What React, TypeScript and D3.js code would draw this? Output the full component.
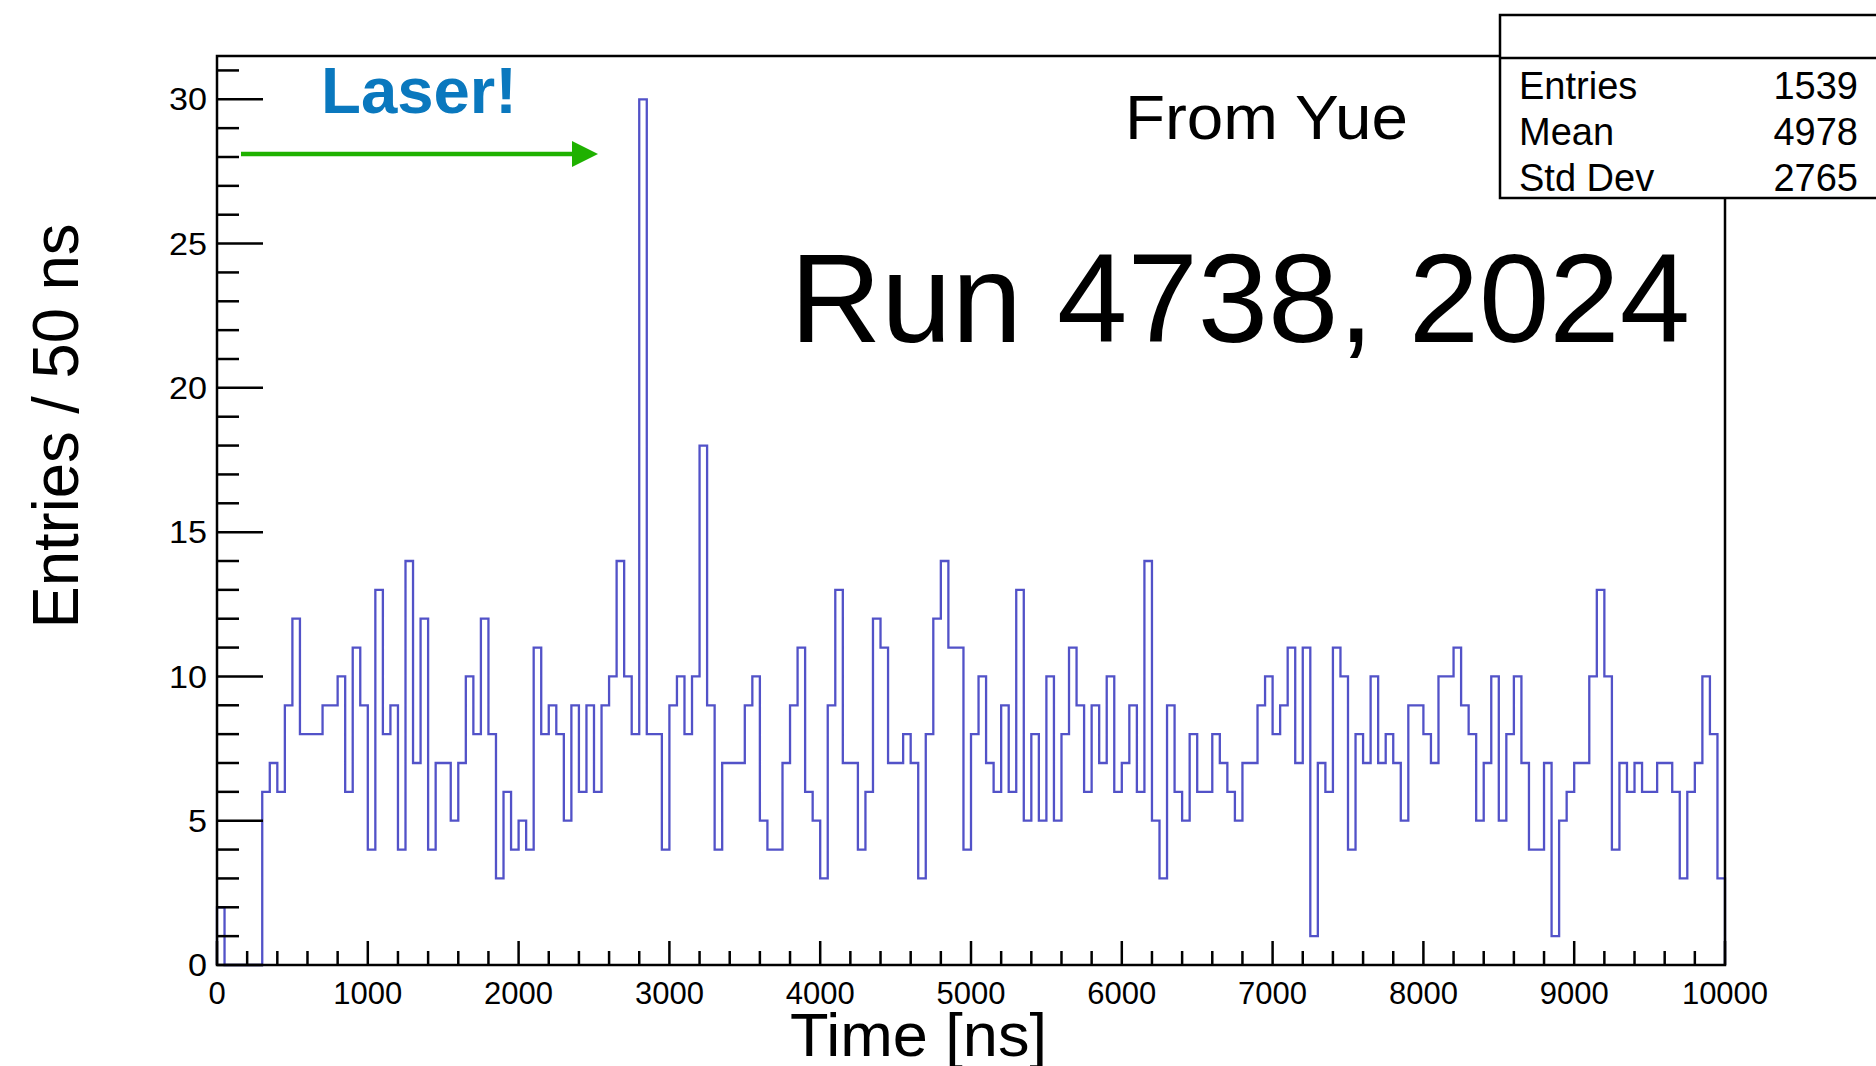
import React from 'react';
import * as d3 from 'd3';

// Histogram: 200 bins of 50 ns, 0 - 10000 ns
const binWidthNs = 50;
const counts = [
  2, 0, 0, 0, 0, 0, 6, 7, 6, 9,
  12, 8, 8, 8, 9, 9, 10, 6, 11, 9,
  4, 13, 8, 9, 4, 14, 7, 12, 4, 7,
  7, 5, 7, 10, 8, 12, 8, 3, 6, 4,
  5, 4, 11, 8, 9, 8, 5, 9, 6, 9,
  6, 9, 10, 14, 10, 8, 30, 8, 8, 4,
  9, 10, 8, 10, 18, 9, 4, 7, 7, 7,
  9, 10, 5, 4, 4, 7, 9, 11, 6, 5,
  3, 9, 13, 7, 7, 4, 6, 12, 11, 7,
  7, 8, 7, 3, 8, 12, 14, 11, 11, 4,
  8, 10, 7, 6, 9, 6, 13, 5, 8, 5,
  10, 5, 8, 11, 9, 6, 9, 7, 10, 6,
  7, 9, 6, 14, 5, 3, 9, 6, 5, 8,
  6, 6, 8, 7, 6, 5, 7, 7, 9, 10,
  8, 9, 11, 7, 11, 1, 7, 6, 11, 10,
  4, 8, 7, 10, 7, 8, 7, 5, 9, 9,
  8, 7, 10, 10, 11, 9, 8, 5, 7, 10,
  5, 8, 10, 7, 4, 4, 7, 1, 5, 6,
  7, 7, 10, 13, 10, 4, 7, 6, 7, 6,
  6, 7, 7, 6, 3, 6, 7, 10, 8, 3,
];

const xDomain = [0, 10000];
const yDomain = [0, 31.5];

const statLabels = ['Entries', 'Mean', 'Std Dev'];
const statValues = ['1539', '4978', '2765'];

const W = 1876;
const H = 1066;
const font = '"Liberation Sans", Arial, Helvetica, sans-serif';

const App = () => {
  const x = d3.scaleLinear().domain(xDomain).range([217, 1725]);
  const y = d3.scaleLinear().domain(yDomain).range([965, 56]);

  // step outline
  const pts: [number, number][] = [[0, 0]];
  counts.forEach((c, i) => pts.push([i * binWidthNs, c]));
  pts.push([xDomain[1], counts[counts.length - 1]]);
  pts.push([xDomain[1], 0]);
  const line = d3.line<[number, number]>()
    .x(d => x(d[0]))
    .y(d => y(d[1]))
    .curve(d3.curveStepAfter);

  const xTicks = x.ticks(50);
  const yTicks = y.ticks(30);

  return (
    <svg width={W} height={H} style={{ position: 'absolute', left: 0, top: 0, background: '#fff' }}
      fontFamily={font}>
      <rect x={0} y={0} width={W} height={H} fill="#fff" />

      {/* histogram */}
      <path d={line(pts) || ''} fill="none" stroke="#5252c8" strokeWidth={2.3} />

      {/* frame */}
      <rect x={x(0)} y={y(yDomain[1])} width={x(10000) - x(0)} height={y(0) - y(yDomain[1])}
        fill="none" stroke="#000" strokeWidth={2.5} />

      {/* y axis */}
      {yTicks.map(t => (
        <line key={'yt' + t} x1={x(0)} x2={x(0) + (t % 5 === 0 ? 46 : 22)} y1={y(t)} y2={y(t)}
          stroke="#000" strokeWidth={2.5} />
      ))}
      {yTicks.filter(t => t % 5 === 0).map(t => (
        <text key={'yl' + t} x={207} y={y(t)} dy="0.36em" textAnchor="end" fontSize={31}
          textLength={String(t).length * 19} lengthAdjust="spacingAndGlyphs">{t}</text>
      ))}

      {/* x axis */}
      {xTicks.map(t => (
        <line key={'xt' + t} x1={x(t)} x2={x(t)} y1={y(0)} y2={y(0) - (t % 1000 === 0 ? 24 : 14)}
          stroke="#000" strokeWidth={2.5} />
      ))}
      {xTicks.filter(t => t % 1000 === 0).map(t => (
        <text key={'xl' + t} x={x(t)} y={1004} textAnchor="middle" fontSize={31}>{t}</text>
      ))}

      {/* axis titles */}
      <text x={790} y={1056} fontSize={62} textLength={257} lengthAdjust="spacingAndGlyphs">Time [ns]</text>
      <text transform="translate(78,426) rotate(-90)" textAnchor="middle" fontSize={64}
        textLength={405} lengthAdjust="spacingAndGlyphs">Entries / 50 ns</text>

      {/* annotations */}
      <text x={321} y={113} fontSize={65} fontWeight="bold" fill="#0a78be"
        textLength={196} lengthAdjust="spacingAndGlyphs">Laser!</text>
      <line x1={241} x2={576} y1={154} y2={154} stroke="#1fb100" strokeWidth={4.5} />
      <path d="M572,141 L598,154 L572,167 Z" fill="#1fb100" />
      <text x={1125} y={139} fontSize={63} textLength={283} lengthAdjust="spacingAndGlyphs">From Yue</text>
      <text x={790} y={342} fontSize={127} textLength={900} lengthAdjust="spacingAndGlyphs">Run 4738, 2024</text>

      {/* stats box */}
      <rect x={1500} y={15} width={400} height={183} fill="#fff" stroke="#000" strokeWidth={2.5} />
      <line x1={1500} x2={W} y1={58} y2={58} stroke="#000" strokeWidth={2.5} />
      {statLabels.map((s, i) => (
        <text key={s} x={1519} y={99 + i * 46} fontSize={38}>{s}</text>
      ))}
      {statValues.map((s, i) => (
        <text key={'v' + i} x={1858} y={99 + i * 46} fontSize={38} textAnchor="end">{s}</text>
      ))}
    </svg>
  );
};

export default App;
